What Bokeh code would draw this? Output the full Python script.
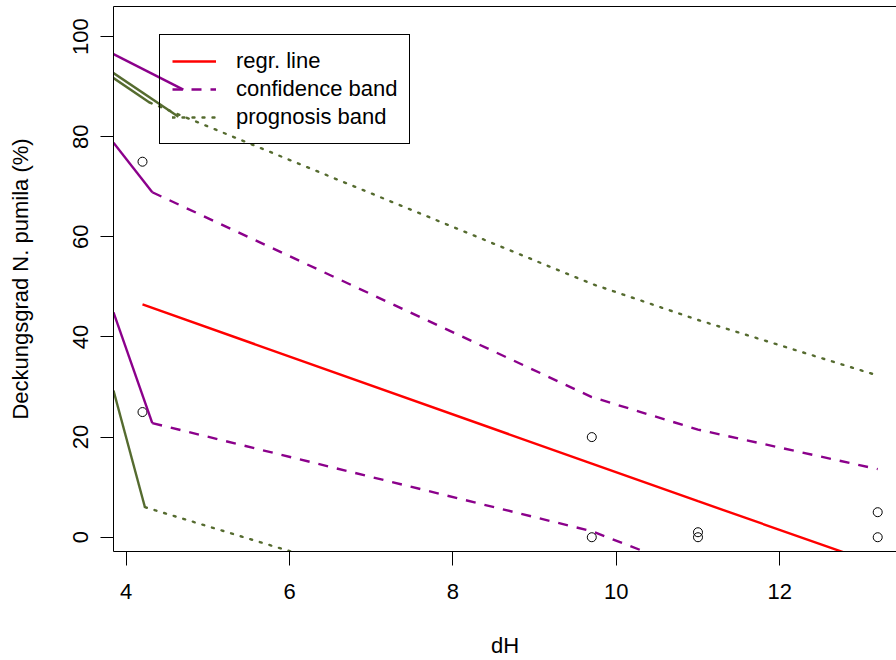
from bokeh.plotting import figure
from bokeh.models import Range1d, SingleIntervalTicker, FixedTicker, LinearAxis, Legend, LegendItem
from bokeh.embed import file_html
from bokeh.resources import INLINE

# ---- observed data -------------------------------------------------------
dh = [4.2, 4.2, 9.7, 9.7, 11.0, 11.0, 13.2, 13.2]
cover = [75, 25, 20, 0, 1, 0, 5, 0]

# regression line
regr_x = [4.2, 9.7, 11.0, 13.2]
regr_y = [46.5, 14.7, 7.2, -5.4]

# confidence band (dashed part)
conf_x = [4.32, 9.7, 11.0, 13.2]
conf_upper = [68.9, 28.0, 21.5, 13.6]
conf_lower = [22.8, 1.2, -7.0, -24.5]

# prognosis band (dotted part)
prog_upper_x = [4.29, 9.7, 11.0, 13.2]
prog_upper = [86.8, 50.6, 43.4, 32.3]
prog_lower_x = [4.23, 9.7, 11.0, 13.2]
prog_lower = [6.0, -21.1, -29.0, -43.2]

# solid lead-in segments entering from the left edge
lead_conf_upper_x = [3.845, 4.32]
lead_conf_upper_y = [78.8, 68.9]
lead_conf_lower_x = [3.845, 4.32]
lead_conf_lower_y = [44.9, 22.8]
lead_conf_top_x = [3.845, 4.70]
lead_conf_top_y = [96.5, 89.4]
lead_prog_upper_x = [3.845, 4.29]
lead_prog_upper_y = [91.7, 86.8]
lead_prog_top_x = [3.845, 4.64]
lead_prog_top_y = [92.7, 84.0]
lead_prog_lower_x = [3.845, 4.23]
lead_prog_lower_y = [29.3, 6.0]

legend_labels = ["regr. line", "confidence band", "prognosis band"]

# ---- styling -------------------------------------------------------------
FONT = "Liberation Sans"
RED = "#FF0000"
PURPLE = "#8B008B"
GREEN = "#556B2F"
LW = 2.4

p = figure(width=896, height=660,
           x_range=Range1d(3.845, 13.43), y_range=Range1d(-2.85, 106.0),
           output_backend="svg", toolbar_location=None,
           min_border_left=113, min_border_right=0,
           min_border_top=6, min_border_bottom=109)
p.outline_line_color = None
p.xgrid.visible = False
p.ygrid.visible = False
p.background_fill_color = "white"
p.border_fill_color = "white"

# axes
xa = p.xaxis[0]
xa.ticker = SingleIntervalTicker(interval=2, num_minor_ticks=0)
xa.axis_label = "dH"
xa.major_tick_out = 14
xa.major_tick_in = 0
xa.major_label_standoff = 18
xa.axis_label_standoff = 31

ya = p.yaxis[0]
ya.ticker = SingleIntervalTicker(interval=20, num_minor_ticks=0)
ya.axis_label = "Deckungsgrad N. pumila (%)"
ya.major_tick_out = 13
ya.major_tick_in = 0
ya.major_label_standoff = 12
ya.axis_label_standoff = 38
ya.major_label_orientation = "vertical"

for ax in (xa, ya):
    ax.axis_line_color = "black"
    ax.axis_line_width = 1
    ax.major_tick_line_color = "black"
    ax.minor_tick_line_color = None
    ax.major_label_text_font = FONT
    ax.major_label_text_font_size = "22px"
    ax.major_label_text_color = "black"
    ax.axis_label_text_font = FONT
    ax.axis_label_text_font_size = "22px"
    ax.axis_label_text_font_style = "normal"
    ax.axis_label_text_color = "black"

top = LinearAxis(ticker=FixedTicker(ticks=[]), major_tick_out=0, major_tick_in=0,
                 major_label_standoff=0, axis_line_color="black", axis_line_width=1,
                 minor_tick_line_color=None, major_tick_line_color=None,
                 major_label_text_font_size="0px")
p.add_layout(top, "above")

# ---- marks ---------------------------------------------------------------
p.scatter(dh, cover, size=9, marker="circle", fill_color=None,
          line_color="black", line_width=1)

r_regr = p.line(regr_x, regr_y, line_color=RED, line_width=LW)

dash_kw = dict(line_color=PURPLE, line_width=LW, line_dash="10 9")
r_conf = p.line(conf_x, conf_upper, **dash_kw)
p.line(conf_x, conf_lower, **dash_kw)

dot_kw = dict(line_color=GREEN, line_width=LW, line_dash="2 8", line_cap="round")
r_prog = p.line(prog_upper_x, prog_upper, **dot_kw)
p.line(prog_lower_x, prog_lower, **dot_kw)

for xs, ys in [(lead_conf_upper_x, lead_conf_upper_y),
               (lead_conf_lower_x, lead_conf_lower_y),
               (lead_conf_top_x, lead_conf_top_y)]:
    p.line(xs, ys, line_color=PURPLE, line_width=LW)
for xs, ys in [(lead_prog_upper_x, lead_prog_upper_y),
               (lead_prog_top_x, lead_prog_top_y),
               (lead_prog_lower_x, lead_prog_lower_y)]:
    p.line(xs, ys, line_color=GREEN, line_width=LW)

# ---- legend --------------------------------------------------------------
legend = Legend(items=[LegendItem(label=legend_labels[0], renderers=[r_regr]),
                       LegendItem(label=legend_labels[1], renderers=[r_conf]),
                       LegendItem(label=legend_labels[2], renderers=[r_prog])],
                location=(46, 407), orientation="vertical")
legend.label_text_font = FONT
legend.label_text_font_size = "22px"
legend.label_text_color = "black"
legend.glyph_width = 44
legend.glyph_height = 28
legend.label_height = 28
legend.spacing = 0
legend.padding = 12
legend.margin = 0
legend.label_standoff = 20
legend.border_line_color = "black"
legend.border_line_width = 1
legend.border_line_alpha = 1
legend.background_fill_alpha = 0
p.add_layout(legend, "center")

open("out.html", "w").write(file_html(p, INLINE))
